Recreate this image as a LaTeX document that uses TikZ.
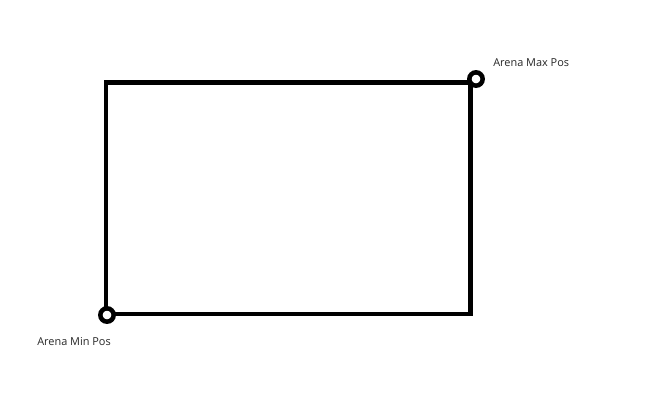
\documentclass[tikz,border=0pt]{standalone}
\usepackage{fontspec}
\setmainfont{Open Sans}
\begin{document}
\begin{tikzpicture}
  [x=0.75pt,y=-0.75pt,every node/.style={inner sep=0pt}]
  \tikzstyle{corner} = [circle,draw=black,fill=white,line width=3.4pt,minimum size=10pt]
  \tikzstyle{label} = [anchor=base west,font=\fontsize{8.2}{10}\selectfont,text=black!85]
  \useasboundingbox (0,0) rectangle (650,405);
  \coordinate (bl) at (106,314);
  \coordinate (tr) at (470.5,82.5);
  \draw[line width=3.4pt] (bl) rectangle (tr);
  \node[corner] (minpos) at (107,315) {};
  \node[corner] (maxpos) at (476,79) {};
  \node[label] (maxtext) at (493,66) {Arena Max Pos};
  \node[label] (mintext) at (37,345) {Arena Min Pos};
\end{tikzpicture}
\end{document}
